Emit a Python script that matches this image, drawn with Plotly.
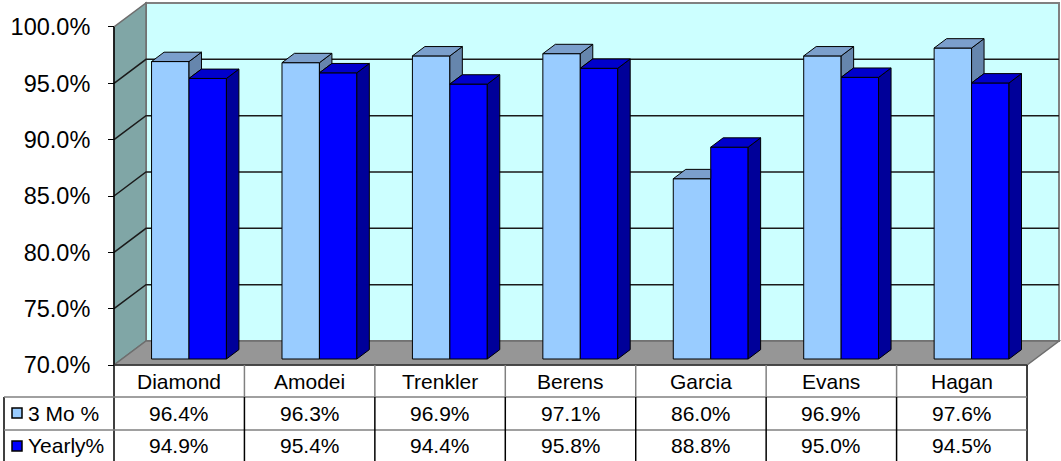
import plotly.graph_objects as go

# ---------------- data ----------------
categories = ["Diamond", "Amodei", "Trenkler", "Berens", "Garcia", "Evans", "Hagan"]
three_mo = [96.4, 96.3, 96.9, 97.1, 86.0, 96.9, 97.6]
yearly = [94.9, 95.4, 94.4, 95.8, 88.8, 95.0, 94.5]
series_names = ["3 Mo %", "Yearly%"]
y_ticks = [70, 75, 80, 85, 90, 95, 100]

# ---------------- geometry (pixels of the 1061x461 page) ----------------
W, H = 1061, 461
X0_PX = 114          # front plane, category x = 0
PXU = 130.43         # pixels per category unit
Y70_PX = 365         # front plane, 70 %
PYU = 11.267         # pixels per percent
DX = 32 / PXU        # full depth shift in x units
DY = 24 / PYU        # full depth shift in percent units
F0 = 0.25            # depth of bar front faces
FD = 0.39            # bar depth
BW = 0.287           # bar width (category units)
PAIR_OFF = 0.075

PLOT_L, PLOT_R, PLOT_T, PLOT_B = 111, 1061, 1, 367
xmin = (PLOT_L - X0_PX) / PXU
xmax = (PLOT_R - X0_PX) / PXU
ymin = 70 - (PLOT_B - Y70_PX) / PYU
ymax = 70 + (Y70_PX - PLOT_T) / PYU
n = len(categories)
ybase = y_ticks[0]
ytop = y_ticks[-1]


def pxx(px):
    return (px - PLOT_L) / (PLOT_R - PLOT_L)


def pxy(py):
    return (PLOT_B - py) / (PLOT_B - PLOT_T)


def dx2paper(x):
    return (x - xmin) / (xmax - xmin)


def dy2py(v):
    return Y70_PX - (v - ybase) * PYU


FONT = "Arial, Liberation Sans, sans-serif"
TABLE_FS = 21
C3_FRONT, C3_TOP, C3_SIDE = "#99CCFF", "#7B9FCC", "#6686AD"
CY_FRONT, CY_TOP, CY_SIDE = "#0000FF", "#0000CC", "#000099"

fig = go.Figure()

base = ybase + F0 * DY
ddx, ddy = FD * DX, FD * DY
centers = [i + 0.5 + PAIR_OFF for i in range(n)]

# front faces as bars
fig.add_trace(go.Bar(
    x=[c - BW / 2 for c in centers], y=[v - ybase for v in three_mo], base=base,
    width=BW, marker=dict(color=C3_FRONT, line=dict(color="black", width=1)),
    name=series_names[0], showlegend=False, hoverinfo="skip"))
fig.add_trace(go.Bar(
    x=[c + BW / 2 for c in centers], y=[v - ybase for v in yearly], base=base,
    width=BW, marker=dict(color=CY_FRONT, line=dict(color="black", width=1)),
    name=series_names[1], showlegend=False, hoverinfo="skip"))


def poly_trace(xs, ys, color):
    return go.Scatter(x=xs, y=ys, mode="lines", fill="toself", fillcolor=color,
                      line=dict(color="black", width=1), showlegend=False,
                      hoverinfo="skip")


s3x, s3y, t3x, t3y = [], [], [], []
syx, syy, tyx, tyy = [], [], [], []
for i in range(n):
    c = centers[i]
    t3 = three_mo[i] + F0 * DY
    ty = yearly[i] + F0 * DY
    # 3 Mo bar (left)
    xl, xr = c - BW, c
    if t3 > ty:
        s3x += [xr, xr, xr + ddx, xr + ddx, xr, None]
        s3y += [ty, t3, t3 + ddy, ty + ddy, ty, None]
        t3x += [xl, xr, xr + ddx, xl + ddx, xl, None]
        t3y += [t3, t3, t3 + ddy, t3 + ddy, t3, None]
    else:
        t3x += [xl, xr, xr, xl + ddx, xl, None]
        t3y += [t3, t3, t3 + ddy, t3 + ddy, t3, None]
    # Yearly bar (right)
    xl, xr = c, c + BW
    syx += [xr, xr, xr + ddx, xr + ddx, xr, None]
    syy += [base, ty, ty + ddy, base + ddy, base, None]
    tyx += [xl, xr, xr + ddx, xl + ddx, xl, None]
    tyy += [ty, ty, ty + ddy, ty + ddy, ty, None]

fig.add_trace(poly_trace(s3x, s3y, C3_SIDE))
fig.add_trace(poly_trace(t3x, t3y, C3_TOP))
fig.add_trace(poly_trace(syx, syy, CY_SIDE))
fig.add_trace(poly_trace(tyx, tyy, CY_TOP))

shapes = []
# back wall
shapes.append(dict(type="path", xref="x", yref="y", layer="below",
                   path=f"M {DX},{ybase+DY} L {n+DX},{ybase+DY} L {n+DX},{ytop+DY} L {DX},{ytop+DY} Z",
                   fillcolor="#CCFFFF", line=dict(color="#808080", width=2)))
# left wall
shapes.append(dict(type="path", xref="x", yref="y", layer="below",
                   path=f"M 0,{ybase} L {DX},{ybase+DY} L {DX},{ytop+DY} L 0,{ytop} Z",
                   fillcolor="#80A6A6", line=dict(color="#6E6E6E", width=1.5)))
# floor
shapes.append(dict(type="path", xref="x", yref="y", layer="below",
                   path=f"M 0,{ybase} L {n},{ybase} L {n+DX},{ybase+DY} L {DX},{ybase+DY} Z",
                   fillcolor="#969696", line=dict(color="#6E6E6E", width=1.5)))
# grid lines
for v in y_ticks[1:-1]:
    shapes.append(dict(type="path", xref="x", yref="y", layer="below",
                       path=f"M 0,{v} L {DX},{v+DY} L {n+DX},{v+DY}",
                       line=dict(color="#1A1A1A", width=1.5)))

# ---------------- data table ----------------
ROW_T, ROW_1, ROW_2, ROW_B = 365, 397, 430, 463
LEG_L = 4
px_axis_top = dy2py(ytop)
# front axis line, continuing down as table line
shapes.append(dict(type="line", xref="paper", yref="paper",
                   x0=dx2paper(0), x1=dx2paper(0), y0=pxy(px_axis_top), y1=pxy(ROW_B),
                   line=dict(color="black", width=1.5)))
# right border
shapes.append(dict(type="line", xref="paper", yref="paper",
                   x0=dx2paper(n), x1=dx2paper(n), y0=pxy(ROW_T), y1=pxy(ROW_B),
                   line=dict(color="black", width=1.5)))
# top line (floor front edge)
shapes.append(dict(type="line", xref="paper", yref="paper",
                   x0=dx2paper(0), x1=dx2paper(n), y0=pxy(ROW_T), y1=pxy(ROW_T),
                   line=dict(color="#333333", width=1.5)))
# legend column left border
shapes.append(dict(type="line", xref="paper", yref="paper",
                   x0=pxx(LEG_L), x1=pxx(LEG_L), y0=pxy(ROW_1), y1=pxy(ROW_B),
                   line=dict(color="black", width=1.5)))
# horizontal row separators
for ry in (ROW_1, ROW_2):
    shapes.append(dict(type="line", xref="paper", yref="paper",
                       x0=pxx(LEG_L), x1=dx2paper(n), y0=pxy(ry), y1=pxy(ry),
                       line=dict(color="#808080", width=1.5)))
# internal column separators
for i in range(1, n):
    shapes.append(dict(type="line", xref="paper", yref="paper",
                       x0=dx2paper(i), x1=dx2paper(i), y0=pxy(ROW_T), y1=pxy(ROW_1),
                       line=dict(color="#808080", width=1.5)))
    shapes.append(dict(type="line", xref="paper", yref="paper",
                       x0=dx2paper(i), x1=dx2paper(i), y0=pxy(ROW_1), y1=pxy(ROW_B),
                       line=dict(color="black", width=1.5)))
# legend keys
for (ry0, ry1), col in zip([(408, 418), (441, 451)], [C3_FRONT, CY_FRONT]):
    shapes.append(dict(type="rect", xref="paper", yref="paper",
                       x0=pxx(12), x1=pxx(22), y0=pxy(ry1), y1=pxy(ry0),
                       fillcolor=col, line=dict(color="black", width=1.5)))

annotations = []
row_centers = [(ROW_T + ROW_1) / 2, (ROW_1 + ROW_2) / 2, (ROW_2 + ROW_B - 2) / 2]
for i, cat in enumerate(categories):
    xc = dx2paper(i + 0.5)
    annotations.append(dict(x=xc, y=pxy(row_centers[0]), xref="paper", yref="paper",
                            text=cat, showarrow=False, xanchor="center", yanchor="middle",
                            font=dict(family=FONT, size=TABLE_FS, color="black")))
    annotations.append(dict(x=xc, y=pxy(row_centers[1]), xref="paper", yref="paper",
                            text=f"{three_mo[i]:.1f}%", showarrow=False, xanchor="center",
                            yanchor="middle", font=dict(family=FONT, size=TABLE_FS, color="black")))
    annotations.append(dict(x=xc, y=pxy(row_centers[2]), xref="paper", yref="paper",
                            text=f"{yearly[i]:.1f}%", showarrow=False, xanchor="center",
                            yanchor="middle", font=dict(family=FONT, size=TABLE_FS, color="black")))
for name, rc in zip(series_names, row_centers[1:]):
    annotations.append(dict(x=pxx(26), y=pxy(rc), xref="paper", yref="paper",
                            text=name, showarrow=False, xanchor="left", yanchor="middle",
                            font=dict(family=FONT, size=TABLE_FS, color="black")))

fig.update_layout(
    width=W, height=H, template="none",
    margin=dict(l=PLOT_L, r=W - PLOT_R, t=PLOT_T, b=H - PLOT_B, pad=0, autoexpand=False),
    paper_bgcolor="white", plot_bgcolor="white",
    barmode="overlay", showlegend=False,
    xaxis=dict(range=[xmin, xmax], visible=False, fixedrange=True),
    yaxis=dict(range=[ymin, ymax], tickvals=y_ticks,
               ticktext=[f"{v:.1f}%" for v in y_ticks],
               ticks="outside", ticklen=6, tickcolor="black", tickwidth=1,
               showgrid=False, zeroline=False, showline=False,
               anchor="free", position=pxx(X0_PX), automargin=False,
               ticklabelstandoff=13, fixedrange=True,
               tickfont=dict(family=FONT, size=23.5, color="black")),
    shapes=shapes, annotations=annotations,
)

fig.write_html(
    "out.html",
    config={"displayModeBar": False, "staticPlot": True},
    post_script="document.body.style.margin='0px';document.body.style.padding='0px';document.body.style.overflow='hidden';",
)
